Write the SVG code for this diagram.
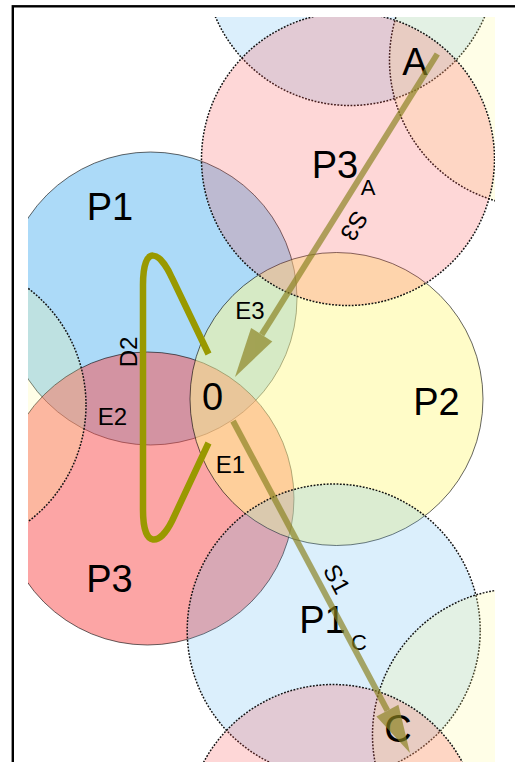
<svg xmlns="http://www.w3.org/2000/svg" width="515" height="762" viewBox="0 0 515 762">
<defs>
<clipPath id="clip"><rect x="28" y="17" width="467" height="745"/></clipPath>
</defs>
<style>
.solid{stroke:#000;stroke-opacity:0.6;stroke-width:1;fill-opacity:0.5}
.ghost{stroke:#111;stroke-width:1.5;stroke-dasharray:1.8 1.5;fill-opacity:0.22}
.c1{fill:#59b5f1}
.c2{fill:#fff991}
.c3{fill:#f94b4b}
text{font-family:"Liberation Sans",Arial,sans-serif;fill:#000;text-anchor:middle}
.big{font-size:38px}
.small{font-size:24px}
.sub{font-size:22px}
.arrow{opacity:0.68}
.arrow line{stroke:#8a8220;stroke-width:6}
.arrow polygon{fill:#8a8220}
.loop{fill:none;stroke:#999900;stroke-width:6.5}
.frame{fill:none;stroke:#000;stroke-width:2.4}
</style>
<rect x="0" y="0" width="515" height="762" fill="#fff"/>
<g clip-path="url(#clip)">
<g id="nodes">
<g id="P1"><circle class="solid c1" cx="150.5" cy="298.5" r="146.5"/></g>
<g id="P3"><circle class="solid c3" cx="147.5" cy="498.5" r="146.5"/></g>
<g id="P2"><circle class="solid c2" cx="336.5" cy="399" r="146.5"/></g>
<g id="P1-top"><circle class="ghost c1" cx="350" cy="-41" r="146.5"/></g>
<g id="P2-top-right"><circle class="ghost c2" cx="536" cy="60" r="146.5"/></g>
<g id="P3-A"><circle class="ghost c3" cx="348" cy="159" r="146.5"/></g>
<g id="P2-left"><circle class="ghost c2" cx="-60.5" cy="405" r="146.5"/></g>
<g id="P1-C"><circle class="ghost c1" cx="333.7" cy="630.5" r="146.5"/></g>
<g id="P2-bottom-right"><circle class="ghost c2" cx="519" cy="735" r="146.5"/></g>
<g id="P3-bottom"><circle class="ghost c3" cx="333" cy="831" r="146.5"/></g>
</g>
<g id="labels">
<text class="big" x="110" y="220">P1</text>
<text class="big" x="109.5" y="592">P3</text>
<text class="big" x="436.5" y="415">P2</text>
<text class="big" x="212.5" y="410">0</text>
<text class="big" x="415" y="75">A</text>
<text class="big" x="398" y="742">C</text>
<text class="big" x="335" y="178">P3</text>
<text class="sub" x="368" y="195">A</text>
<text class="big" x="322.5" y="633">P1</text>
<text class="sub" x="359" y="650">C</text>
<text class="small" x="250" y="319">E3</text>
<text class="small" x="112.5" y="425">E2</text>
<text class="small" x="230.5" y="473">E1</text>
</g>
<g id="connectors">
<g id="S3" class="arrow">
<line x1="437.3" y1="54" x2="261.7" y2="334.7"/>
<polygon points="235,377 272.3,341.4 251.1,328"/>
</g>
<g id="S1" class="arrow">
<line x1="233" y1="421" x2="387.4" y2="710.6"/>
<polygon points="410,753 398.4,704.7 376.4,716.5"/>
</g>
<path id="D2" class="loop" d="M208.5,354 L172,278 C160,251 143,243 143,285 L143,510 C143,550 160,545 172,521 L208.5,443"/>
<text class="small" transform="translate(354.5,226) rotate(122)" y="8.5">S3</text>
<text class="small" transform="translate(337,579) rotate(61.9)" y="8.5">S1</text>
<text class="small" transform="translate(137,352) rotate(-90)">D2</text>
</g>
</g>
<rect class="frame" x="12.8" y="6.3" width="530" height="790"/>
</svg>
